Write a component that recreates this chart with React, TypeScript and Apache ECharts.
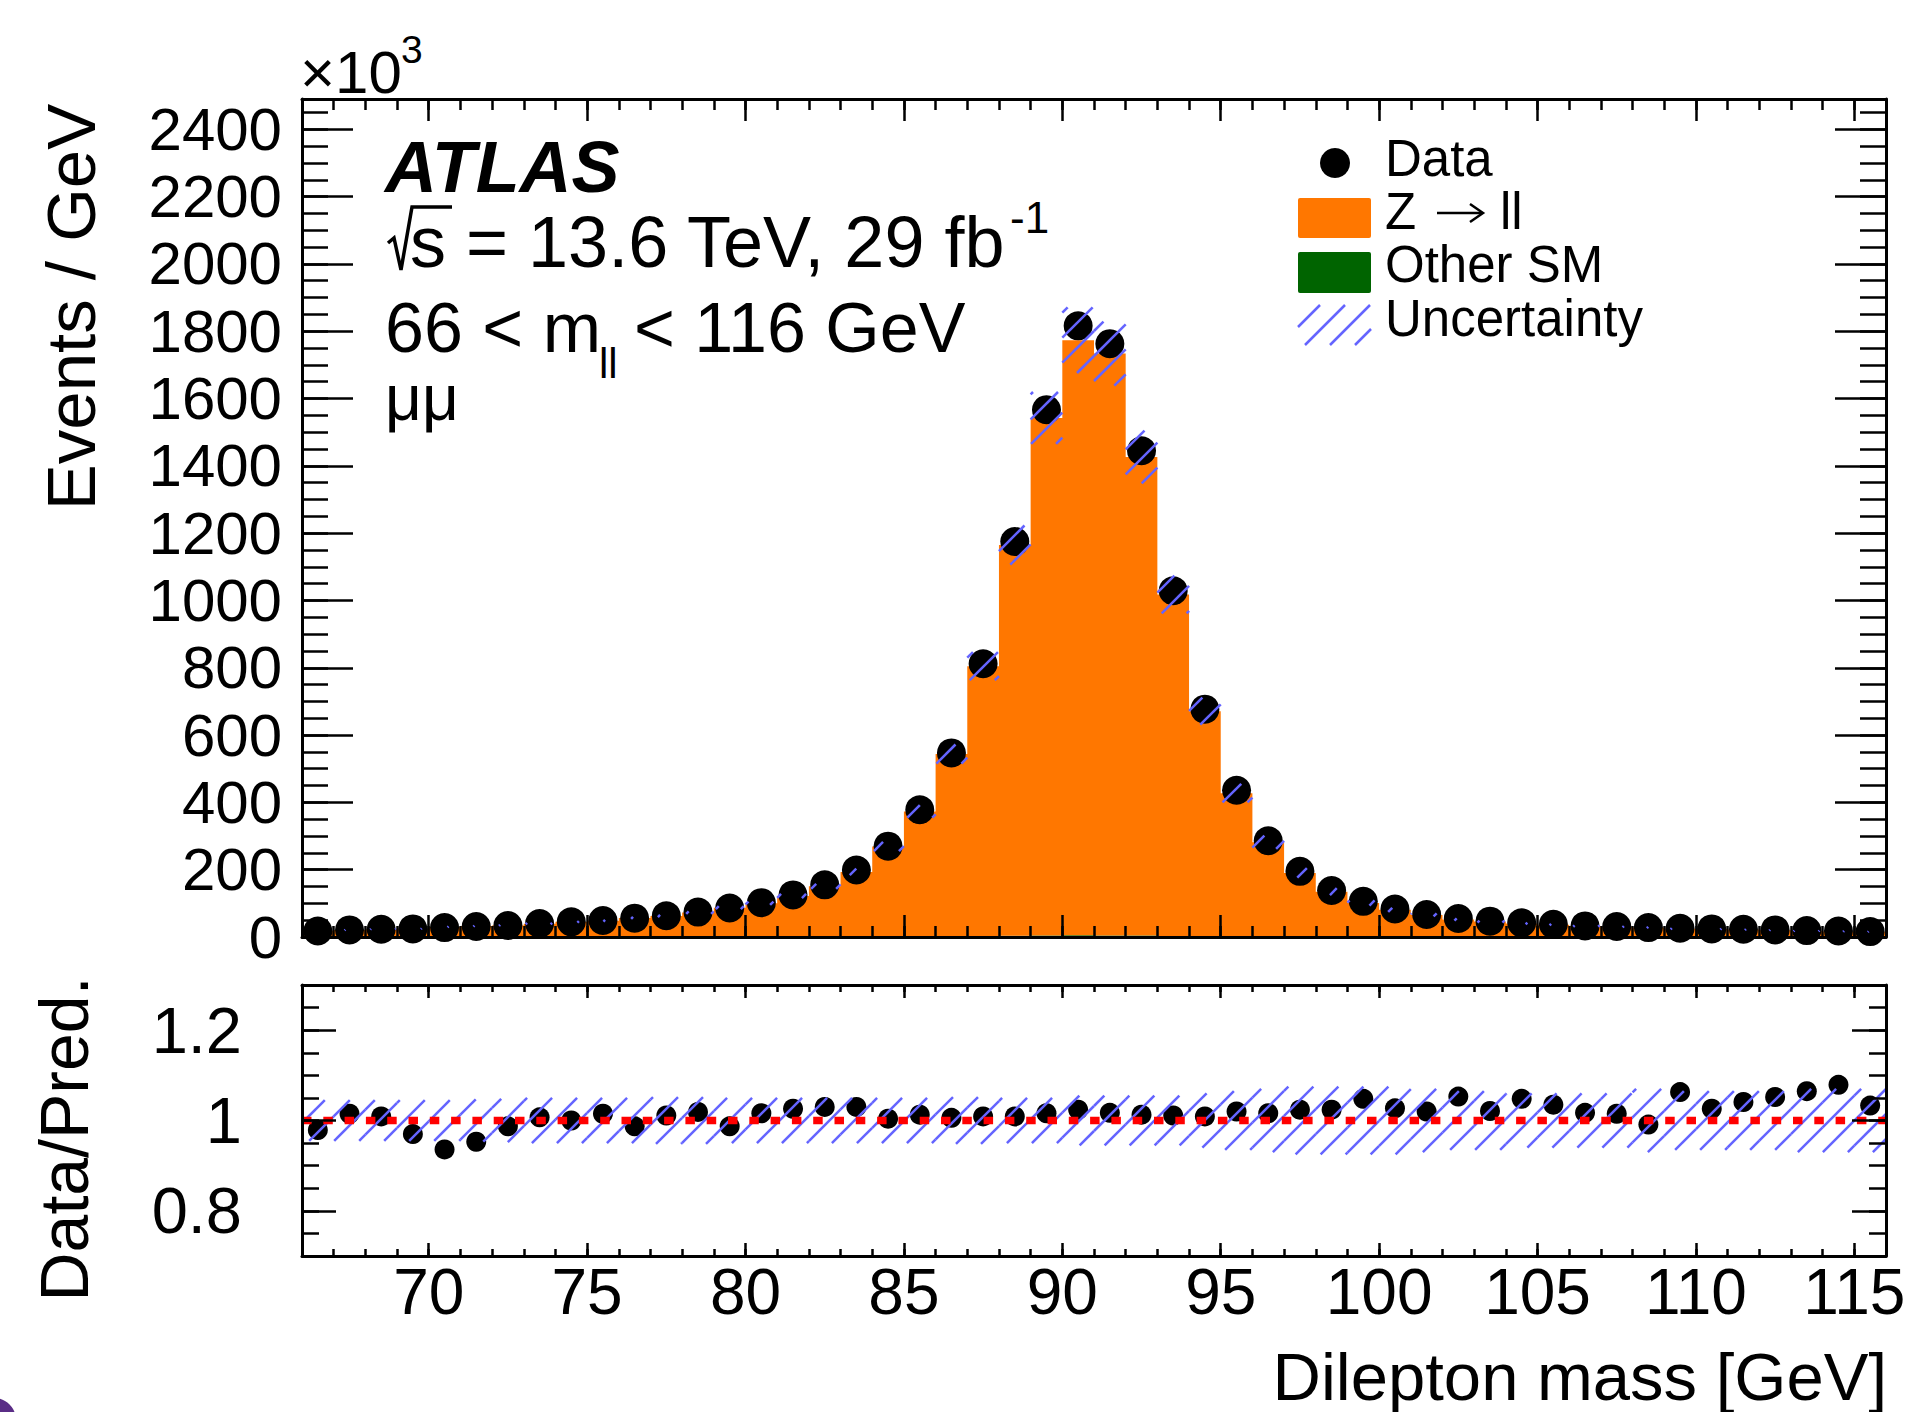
import React, { useEffect, useRef } from 'react';
import * as echarts from 'echarts';

// ---------------- data ----------------
const binEdges = [66, 67, 68, 69, 70, 71, 72, 73, 74, 75, 76, 77, 78, 79, 80, 81, 82, 83, 84, 85, 86, 87, 88, 89, 90, 91, 92, 93, 94, 95, 96, 97, 98, 99, 100, 101, 102, 103, 104, 105, 106, 107, 108, 109, 110, 111, 112, 113, 114, 115, 116];

// Events / GeV in units of 10^3
const dataEvents = [18, 21, 23, 24, 28, 31, 34, 40, 45, 49, 56, 63, 74, 86, 102, 125, 155, 199, 270, 378, 547, 812, 1175, 1567, 1816, 1763, 1445, 1029, 677, 436, 286, 195, 138, 106, 83, 67, 55, 47, 42, 38, 33, 31, 28, 26, 24, 23, 21, 19, 18, 16];

const zllValues = [17.5, 19.8, 21.9, 23.8, 28.9, 31.5, 33.4, 38.7, 44.0, 47.3, 55.6, 61.2, 71.5, 85.9, 99.2, 120.5, 149.1, 191.6, 267.0, 370.9, 541.0, 801.5, 1160.6, 1537.8, 1768.5, 1728.7, 1422.4, 1014.6, 668.6, 425.7, 280.0, 189.1, 133.6, 100.0, 79.8, 64.7, 51.3, 45.1, 39.2, 35.9, 31.6, 29.7, 27.5, 23.7, 22.7, 21.4, 19.3, 17.1, 16.0, 14.8];

const otherSMValues = [0.9, 0.9, 0.9, 0.9, 1.0, 1.0, 1.0, 1.0, 1.0, 1.0, 1.1, 1.1, 1.1, 1.2, 1.2, 1.3, 1.4, 1.6, 1.9, 2.2, 2.7, 3.3, 3.9, 4.5, 4.9, 4.8, 4.1, 3.2, 2.4, 1.8, 1.5, 1.3, 1.2, 1.1, 1.0, 1.0, 0.9, 0.9, 0.9, 0.8, 0.8, 0.8, 0.8, 0.8, 0.7, 0.7, 0.7, 0.7, 0.7, 0.7];

const ratioValues = [0.979, 1.015, 1.009, 0.970, 0.936, 0.953, 0.987, 1.007, 1.000, 1.015, 0.987, 1.011, 1.019, 0.987, 1.016, 1.026, 1.030, 1.030, 1.004, 1.013, 1.006, 1.009, 1.009, 1.016, 1.024, 1.017, 1.013, 1.011, 1.009, 1.020, 1.016, 1.024, 1.024, 1.048, 1.027, 1.020, 1.053, 1.021, 1.048, 1.035, 1.017, 1.015, 0.991, 1.063, 1.026, 1.041, 1.052, 1.065, 1.079, 1.033];

// relative uncertainty of the prediction
const relUncertainty = [0.045, 0.045, 0.045, 0.045, 0.045, 0.047, 0.048, 0.05, 0.05, 0.05, 0.05, 0.052, 0.052, 0.05, 0.05, 0.05, 0.05, 0.05, 0.05, 0.05, 0.052, 0.052, 0.05, 0.05, 0.055, 0.055, 0.055, 0.055, 0.06, 0.065, 0.07, 0.075, 0.075, 0.075, 0.075, 0.07, 0.065, 0.065, 0.06, 0.06, 0.06, 0.06, 0.07, 0.065, 0.065, 0.065, 0.065, 0.07, 0.07, 0.07];

const xMajorTicks = [70, 75, 80, 85, 90, 95, 100, 105, 110, 115];
const yMajorTicks = [0, 200, 400, 600, 800, 1000, 1200, 1400, 1600, 1800, 2000, 2200, 2400];
const ratioMajorTicks = [0.8, 1, 1.2];
const ratioMinorTicks = [0.7, 0.75, 0.8, 0.85, 0.9, 0.95, 1, 1.05, 1.1, 1.15, 1.2, 1.25, 1.3];

// ---------------- style / layout ----------------
const FONT = '"Liberation Sans", Arial, Helvetica, sans-serif';
const ORANGE = '#ff7700';
const GREEN = '#006400';
const HATCH = '#6464ff';
const HATCH_STEP = 25;

const NB = dataEvents.length;
const binCenters = dataEvents.map((_, i) => (binEdges[i] + binEdges[i + 1]) / 2);
const mcTotal = dataEvents.map((_, i) => zllValues[i] + otherSMValues[i]);

function hatchLines(x0: number, x1: number, y0: number, y1: number, stroke = HATCH, lw = 2.5) {
  const els: any[] = [];
  const xa0 = Math.min(x0, x1), xb0 = Math.max(x0, x1);
  const ya0 = Math.min(y0, y1), yb0 = Math.max(y0, y1);
  const kStart = Math.ceil((xa0 + ya0) / HATCH_STEP);
  const kEnd = Math.floor((xb0 + yb0) / HATCH_STEP);
  for (let k = kStart; k <= kEnd; k++) {
    const c = k * HATCH_STEP;
    const xa = Math.max(xa0, c - yb0);
    const xb = Math.min(xb0, c - ya0);
    if (xb - xa < 0.6) continue;
    els.push({
      type: 'line',
      shape: { x1: xa, y1: c - xa, x2: xb, y2: c - xb },
      style: { stroke, lineWidth: lw, lineCap: 'butt' },
    });
  }
  return els;
}

function axis(min: number, max: number, spec: { custom?: number[]; interval?: number }, len: number, line: boolean, label: any) {
  const a: any = {
    type: 'value',
    min,
    max,
    z: 10,
    splitLine: { show: false },
    splitArea: { show: false },
    axisLine: { show: line, onZero: false, lineStyle: { color: '#000', width: 3 } },
    axisTick: { show: true, inside: true, length: len, lineStyle: { color: '#000', width: 2.5 } },
    axisLabel: label ? { show: true, color: '#000', fontFamily: FONT, formatter: (v: number) => String(v), ...label } : { show: false },
  };
  if (spec.interval) a.interval = spec.interval;
  if (spec.custom) a.axisTick.customValues = spec.custom;
  return a;
}

function txt(x: number, y: number, text: string, size: number, extra: any = {}) {
  const align = extra.align || 'left';
  return {
    type: 'text',
    x,
    y,
    rotation: extra.rotation || 0,
    z: 20,
    silent: true,
    style: {
      text,
      fill: '#000',
      fontSize: size,
      fontFamily: FONT,
      fontWeight: extra.weight || 'normal',
      fontStyle: extra.style || 'normal',
      align,
      textAlign: align,
      verticalAlign: 'middle',
      textVerticalAlign: 'middle',
    },
  };
}

function buildOption(): any {
  const upperHatchData = binCenters.map((_, i) => [binEdges[i], binEdges[i + 1], mcTotal[i] * (1 - relUncertainty[i]), mcTotal[i] * (1 + relUncertainty[i])]);
  const ratioHatchData = binCenters.map((_, i) => [binEdges[i], binEdges[i + 1], 1 - relUncertainty[i], 1 + relUncertainty[i]]);

  const hatchRender = (params: any, api: any) => {
    const a = api.coord([api.value(0), api.value(3)]);
    const b = api.coord([api.value(1), api.value(2)]);
    return { type: 'group', children: hatchLines(a[0], b[0], a[1], b[1]) };
  };

  const legendX = 1298, legendW = 73;

  return {
    animation: false,
    backgroundColor: '#fff',
    textStyle: { fontFamily: FONT },
    grid: [
      { left: 302, top: 99, width: 1584, height: 838, outerBoundsMode: 'none', containLabel: false },
      { left: 302, top: 985, width: 1584, height: 271, outerBoundsMode: 'none', containLabel: false },
    ],
    xAxis: [
      { gridIndex: 0, position: 'bottom', ...axis(66, 116, { custom: xMajorTicks }, 22, true, null) },
      { gridIndex: 0, position: 'bottom', ...axis(66, 116, { interval: 1 }, 11, false, null) },
      { gridIndex: 0, position: 'top', ...axis(66, 116, { custom: xMajorTicks }, 22, true, null) },
      { gridIndex: 0, position: 'top', ...axis(66, 116, { interval: 1 }, 11, false, null) },
      { gridIndex: 1, position: 'bottom', ...axis(66, 116, { custom: xMajorTicks }, 13, true, { customValues: xMajorTicks, fontSize: 64, margin: 4 }) },
      { gridIndex: 1, position: 'bottom', ...axis(66, 116, { interval: 1 }, 7, false, null) },
      { gridIndex: 1, position: 'top', ...axis(66, 116, { custom: xMajorTicks }, 13, true, null) },
      { gridIndex: 1, position: 'top', ...axis(66, 116, { interval: 1 }, 7, false, null) },
    ],
    yAxis: [
      { gridIndex: 0, position: 'left', ...axis(0, 2490, { custom: yMajorTicks }, 51, true, { customValues: yMajorTicks, fontSize: 60, margin: 20 }) },
      { gridIndex: 0, position: 'left', ...axis(0, 2490, { interval: 50 }, 26, false, null) },
      { gridIndex: 0, position: 'right', ...axis(0, 2490, { custom: yMajorTicks }, 51, true, null) },
      { gridIndex: 0, position: 'right', ...axis(0, 2490, { interval: 50 }, 26, false, null) },
      { gridIndex: 1, position: 'left', ...axis(0.7, 1.3, { custom: ratioMajorTicks }, 34, true, { customValues: ratioMajorTicks, fontSize: 65, margin: 60 }) },
      { gridIndex: 1, position: 'left', ...axis(0.7, 1.3, { custom: ratioMinorTicks }, 17, false, null) },
      { gridIndex: 1, position: 'right', ...axis(0.7, 1.3, { custom: ratioMajorTicks }, 34, true, null) },
      { gridIndex: 1, position: 'right', ...axis(0.7, 1.3, { custom: ratioMinorTicks }, 17, false, null) },
    ],
    series: [
      {
        type: 'custom',
        name: 'Other SM',
        xAxisIndex: 0,
        yAxisIndex: 0,
        z: 1,
        silent: true,
        data: [[66, 0]],
        renderItem: (params: any, api: any) => {
          const pts: number[][] = [];
          for (let i = 0; i < NB; i++) {
            pts.push(api.coord([binEdges[i], otherSMValues[i]]), api.coord([binEdges[i + 1], otherSMValues[i]]));
          }
          pts.push(api.coord([binEdges[NB], 0]), api.coord([binEdges[0], 0]));
          return { type: 'polygon', shape: { points: pts }, style: { fill: GREEN } };
        },
      },
      {
        type: 'custom',
        name: 'Z → ll',
        xAxisIndex: 0,
        yAxisIndex: 0,
        z: 1,
        silent: true,
        data: [[66, 0]],
        renderItem: (params: any, api: any) => {
          const pts: number[][] = [];
          for (let i = 0; i < NB; i++) {
            const top = otherSMValues[i] + zllValues[i];
            pts.push(api.coord([binEdges[i], top]), api.coord([binEdges[i + 1], top]));
          }
          for (let i = NB - 1; i >= 0; i--) {
            pts.push(api.coord([binEdges[i + 1], otherSMValues[i]]), api.coord([binEdges[i], otherSMValues[i]]));
          }
          return { type: 'polygon', shape: { points: pts }, style: { fill: ORANGE } };
        },
      },
      {
        type: 'scatter',
        name: 'Data',
        xAxisIndex: 0,
        yAxisIndex: 0,
        z: 3,
        silent: true,
        symbol: 'circle',
        symbolSize: 29,
        itemStyle: { color: '#000', opacity: 1 },
        data: binCenters.map((c, i) => [c, dataEvents[i]]),
      },
      {
        type: 'custom',
        name: 'Uncertainty',
        xAxisIndex: 0,
        yAxisIndex: 0,
        z: 4,
        silent: true,
        encode: { x: [0, 1], y: [2, 3] },
        data: upperHatchData,
        renderItem: hatchRender,
      },
      {
        type: 'scatter',
        name: 'Ratio',
        xAxisIndex: 4,
        yAxisIndex: 4,
        z: 3,
        silent: true,
        symbol: 'circle',
        symbolSize: 20,
        itemStyle: { color: '#000', opacity: 1 },
        data: binCenters.map((c, i) => [c, ratioValues[i]]),
      },
      {
        type: 'custom',
        name: 'Ratio uncertainty',
        xAxisIndex: 4,
        yAxisIndex: 4,
        z: 4,
        silent: true,
        encode: { x: [0, 1], y: [2, 3] },
        data: ratioHatchData,
        renderItem: hatchRender,
      },
      {
        type: 'line',
        name: 'Unity',
        xAxisIndex: 4,
        yAxisIndex: 4,
        z: 5,
        silent: true,
        symbol: 'none',
        lineStyle: { color: '#ff0000', width: 7.5, type: [9.5, 11.8] },
        data: [[66, 1], [116, 1]],
      },
    ],
    graphic: [
      // multiplier
      txt(300, 72, '×10', 60),
      txt(401, 49, '3', 39),
      // y titles
      txt(71, 307, 'Events / GeV', 69, { align: 'center', rotation: Math.PI / 2 }),
      txt(64, 1139, 'Data/Pred.', 68, { align: 'center', rotation: Math.PI / 2 }),
      // x title
      txt(1887, 1376, 'Dilepton mass [GeV]', 67, { align: 'right' }),
      // ATLAS label block
      txt(385, 167, 'ATLAS', 72, { weight: 'bold', style: 'italic' }),
      {
        type: 'polyline',
        z: 20,
        silent: true,
        shape: { points: [[388, 243], [394, 238], [401, 270], [412, 207], [452, 207]] },
        style: { stroke: '#000', lineWidth: 3.5, fill: null },
      },
      txt(410, 242, 's = 13.6 TeV, 29 fb', 72),
      txt(1010, 217, '-1', 44),
      txt(385, 328, '66 < m', 70),
      txt(599, 363, 'll', 42),
      txt(634, 328, '< 116 GeV', 70),
      txt(385, 398, 'μμ', 64),
      // legend
      { type: 'circle', z: 20, silent: true, shape: { cx: 1335, cy: 163, r: 15 }, style: { fill: '#000' } },
      txt(1385, 158, 'Data', 51),
      { type: 'rect', z: 20, silent: true, shape: { x: legendX, y: 198, width: legendW, height: 40, r: 2 }, style: { fill: ORANGE } },
      txt(1385, 211, 'Z', 51),
      { type: 'line', z: 20, silent: true, shape: { x1: 1437, y1: 213, x2: 1482, y2: 213 }, style: { stroke: '#000', lineWidth: 2.5 } },
      { type: 'polyline', z: 20, silent: true, shape: { points: [[1470, 204], [1483, 213], [1470, 222]] }, style: { stroke: '#000', lineWidth: 2.5, fill: null } },
      txt(1500, 211, 'll', 51),
      { type: 'rect', z: 20, silent: true, shape: { x: legendX, y: 252, width: legendW, height: 41, r: 2 }, style: { fill: GREEN } },
      txt(1385, 264, 'Other SM', 51),
      { type: 'group', z: 20, silent: true, children: hatchLines(legendX, legendX + legendW, 305, 345) },
      txt(1385, 318, 'Uncertainty', 51),
      // slide artefact in the corner
      { type: 'circle', z: 20, silent: true, shape: { cx: -6, cy: 1420, r: 22 }, style: { fill: '#5a2d86' } },
    ],
  };
}

export default function App() {
  const ref = useRef<HTMLDivElement>(null);
  useEffect(() => {
    document.body.style.margin = '0';
    const chart = echarts.init(ref.current as HTMLDivElement, undefined, { renderer: 'svg', width: 1909, height: 1412 });
    chart.setOption(buildOption());
    return () => chart.dispose();
  }, []);
  return <div ref={ref} style={{ width: 1909, height: 1412, position: 'absolute', left: 0, top: 0, background: '#fff' }} />;
}
